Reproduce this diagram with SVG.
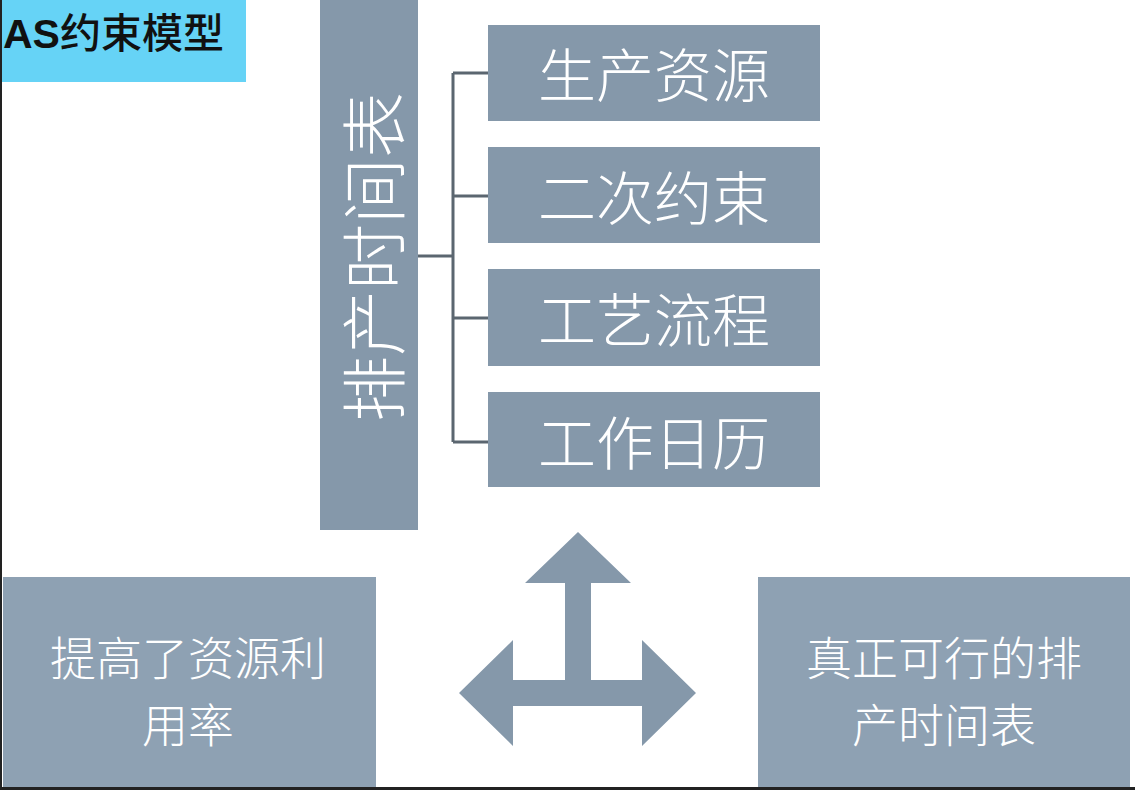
<svg xmlns="http://www.w3.org/2000/svg" width="1135" height="790" viewBox="0 0 1135 790">
<style>
.box{fill:#8598aa}
.boxb{fill:#8ea1b3}
.lbl{font-family:"Noto Sans CJK SC","Noto Sans",sans-serif;font-weight:300;fill:#ffffff;text-anchor:middle;dominant-baseline:central}
.conn{stroke:#5b6670;stroke-width:3;fill:none}
</style>
<rect x="0" y="0" width="1135" height="790" fill="#ffffff"/>
<g id="title">
<rect x="0" y="0" width="246" height="82" fill="#66d3f6"/>
<text x="3" y="48" font-family="'Liberation Sans','Noto Sans CJK SC',sans-serif" font-size="41" fill="#111111"><tspan font-weight="bold">AS</tspan><tspan font-family="'Noto Sans CJK SC',sans-serif" font-weight="500">约束模型</tspan></text>
</g>
<g id="connectors">
<path class="conn" d="M418 256 H453 M453 73 V442 M453 73 H488 M453 196 H488 M453 318 H488 M453 442 H488"/>
</g>
<g id="schedule">
<rect class="box" x="320" y="0" width="98" height="530"/>
<text class="lbl" font-size="66" transform="translate(370 257) rotate(-90)" x="0" y="0">排产时间表</text>
</g>
<g id="resource">
<rect class="box" x="488" y="25" width="332" height="96"/>
<text class="lbl" font-size="58" x="654" y="72">生产资源</text>
</g>
<g id="secondary">
<rect class="box" x="488" y="147" width="332" height="96"/>
<text class="lbl" font-size="58" x="654" y="195">二次约束</text>
</g>
<g id="process">
<rect class="box" x="488" y="269" width="332" height="97"/>
<text class="lbl" font-size="58" x="654" y="317">工艺流程</text>
</g>
<g id="calendar">
<rect class="box" x="488" y="392" width="332" height="95"/>
<text class="lbl" font-size="58" x="654" y="440">工作日历</text>
</g>
<g id="arrow">
<polygon fill="#8598aa" points="578,532 631,583 591,583 591,680 642,680 642,640 696,693 642,746 642,706 513,706 513,746 459,693 513,640 513,680 565,680 565,583 525,583"/>
</g>
<g id="utilization">
<rect class="boxb" x="3" y="577" width="373" height="210"/>
<text class="lbl" font-size="46" x="188" y="655">提高了资源利</text>
<text class="lbl" font-size="46" x="188" y="722">用率</text>
</g>
<g id="feasible">
<rect class="boxb" x="758" y="577" width="372" height="210"/>
<text class="lbl" font-size="46" x="944" y="655">真正可行的排</text>
<text class="lbl" font-size="46" x="944" y="722">产时间表</text>
</g>
<g id="frame">
<rect x="0" y="0" width="2" height="790" fill="#222222"/>
<rect x="0" y="787" width="1135" height="3" fill="#222222"/>
</g>
</svg>
